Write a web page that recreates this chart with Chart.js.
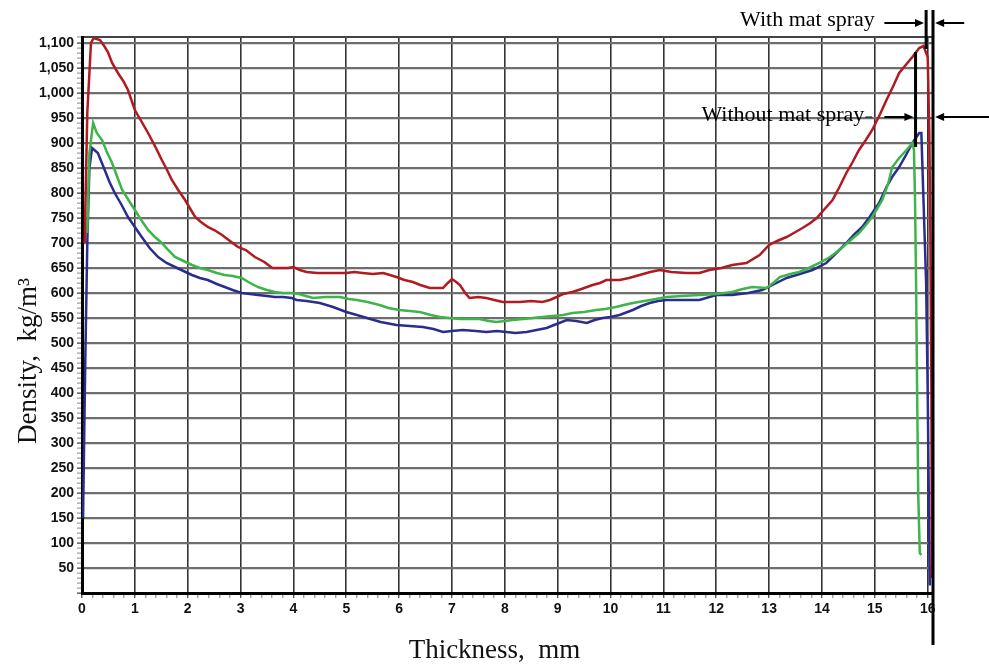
<!DOCTYPE html>
<html>
<head>
<meta charset="utf-8">
<script src="https://cdn.jsdelivr.net/npm/chart.js@4.4.0/dist/chart.umd.min.js"></script>
<style>
  html, body { margin: 0; padding: 0; background: #fff; }
  #wrap { width: 989px; height: 665px; }
</style>
</head>
<body>
<div id="wrap"><canvas id="myChart" width="989" height="665"></canvas></div>
<script>
const canvasChart = document.getElementById("myChart");

// thickness (mm) / density (kg/m3)
const redX = [0.05,0.1,0.17,0.22,0.34,0.42,0.49,0.57,0.68,0.78,0.87,1.0,1.12,1.25,1.38,1.51,1.6,1.7,1.82,1.95,2.05,2.14,2.25,2.38,2.5,2.65,2.8,2.95,3.1,3.27,3.45,3.6,3.74,3.9,4.0,4.12,4.25,4.45,4.69,5.0,5.15,5.31,5.5,5.7,5.95,6.1,6.26,6.4,6.58,6.83,6.92,7.0,7.08,7.15,7.25,7.33,7.5,7.65,7.8,7.96,8.28,8.5,8.71,8.85,8.98,9.1,9.28,9.45,9.66,9.8,9.92,10.17,10.35,10.55,10.75,10.93,11.15,11.43,11.68,11.87,12.1,12.3,12.57,12.82,13.0,13.15,13.33,13.5,13.63,13.78,13.9,14.05,14.2,14.33,14.46,14.58,14.7,14.83,14.95,15.1,15.22,15.34,15.46,15.6,15.71,15.84,15.92,16.0,16.03,16.05,16.07,16.08];
const redY = [700,960,1100,1110,1106,1094,1082,1060,1040,1024,1006,966,944,920,894,866,848,826,806,786,768,752,742,732,726,716,704,692,686,672,662,650,650,650,652,646,642,640,640,640,642,640,638,640,632,626,622,616,610,610,620,628,622,616,600,590,592,590,586,582,582,584,582,586,592,598,602,608,616,620,626,626,630,636,642,646,642,640,640,646,650,656,660,676,696,704,712,722,730,740,750,768,786,812,840,862,886,906,926,958,986,1012,1040,1058,1072,1090,1094,1072,920,720,400,30];

const greenX = [0.1,0.14,0.21,0.28,0.38,0.47,0.57,0.66,0.76,0.88,1.0,1.12,1.25,1.38,1.51,1.63,1.76,1.92,2.08,2.23,2.38,2.55,2.7,2.85,3.02,3.18,3.33,3.5,3.65,3.8,3.97,4.1,4.37,4.6,4.88,5.05,5.2,5.4,5.63,5.8,6.0,6.2,6.39,6.6,6.77,6.95,7.15,7.35,7.52,7.7,7.84,8.0,8.15,8.35,8.53,8.7,8.9,9.1,9.28,9.5,9.73,9.9,10.1,10.25,10.42,10.75,11.06,11.35,11.68,12.0,12.3,12.5,12.68,12.95,13.1,13.2,13.4,13.57,13.75,13.95,14.15,14.33,14.5,14.7,14.83,14.95,15.05,15.14,15.25,15.33,15.46,15.6,15.71,15.74,15.76,15.78,15.8,15.82,15.85,15.88];
const greenY = [720,880,940,920,906,882,860,834,806,786,766,746,726,712,700,686,672,664,656,650,646,640,636,634,630,620,612,606,602,600,600,598,590,592,592,588,586,582,576,570,566,564,562,556,552,550,548,548,548,544,542,544,546,548,550,552,554,556,560,562,566,568,572,576,580,586,592,594,596,598,602,608,612,610,622,632,638,642,650,660,672,686,702,720,736,752,770,786,818,852,870,886,900,886,786,620,400,200,80,76];

const blueX = [0.02,0.06,0.1,0.14,0.19,0.3,0.43,0.52,0.62,0.75,0.87,1.0,1.13,1.28,1.44,1.6,1.76,1.92,2.08,2.23,2.38,2.55,2.7,2.85,3.02,3.18,3.33,3.5,3.65,3.8,3.97,4.06,4.25,4.5,4.75,5.0,5.2,5.39,5.65,5.95,6.2,6.45,6.65,6.83,7.0,7.2,7.45,7.65,7.85,8.03,8.2,8.41,8.6,8.79,8.98,9.17,9.35,9.55,9.7,9.85,10.0,10.17,10.42,10.58,10.74,10.9,11.06,11.35,11.68,12.0,12.3,12.6,12.87,13.1,13.33,13.58,13.82,14.08,14.27,14.46,14.6,14.76,14.9,15.08,15.22,15.34,15.46,15.6,15.71,15.84,15.88,15.9,15.94,15.97,16.0,16.02,16.04];
const blueY = [150,450,700,850,890,880,846,822,800,776,752,732,712,690,672,660,652,644,636,630,626,618,612,606,600,598,596,594,592,592,590,586,584,580,572,562,556,550,542,536,534,532,528,522,524,526,524,522,524,522,520,522,526,530,538,546,544,540,546,550,552,556,566,574,580,584,586,586,586,596,596,600,606,618,630,638,646,660,680,700,716,732,752,780,812,834,852,878,900,920,920,852,720,620,400,200,15];

const seriesColors = ["#b01a20", "#3db54a", "#2b2d8e"];

function toPoints(xs, ys) {
  return xs.map((x, i) => ({ x: x, y: ys[i] }));
}

function isWhole(v) {
  return Math.abs(v - Math.round(v)) < 1e-6;
}

function drawArrow(ctx, x1, y, x2) {
  const dir = x2 > x1 ? 1 : -1;
  ctx.beginPath();
  ctx.moveTo(x1, y);
  ctx.lineTo(x2 - dir * 6, y);
  ctx.stroke();
  ctx.beginPath();
  ctx.moveTo(x2, y);
  ctx.lineTo(x2 - dir * 9, y - 4);
  ctx.lineTo(x2 - dir * 9, y + 4);
  ctx.closePath();
  ctx.fill();
}

const extrasPlugin = {
  id: "extras",
  afterDraw(chart) {
    const ctx = chart.ctx;
    const xs = chart.scales.x;
    const ys = chart.scales.y;
    const area = chart.chartArea;
    const px = (v) => xs.getPixelForValue(v);
    const py = (v) => ys.getPixelForValue(v);

    ctx.save();
    // axis titles
    ctx.fillStyle = "#111";
    ctx.font = "27px 'Liberation Serif', 'Times New Roman', serif";
    ctx.textAlign = "center";
    ctx.textBaseline = "alphabetic";
    ctx.fillText("Thickness,  mm", (area.left + area.right) / 2 - 13, 658);
    ctx.save();
    ctx.translate(36, (area.top + area.bottom) / 2 + 46);
    ctx.rotate(-Math.PI / 2);
    ctx.fillText("Density,  kg/m³", 0, 0);
    ctx.restore();

    // annotation lines
    ctx.strokeStyle = "#000";
    ctx.fillStyle = "#000";
    ctx.lineWidth = 3;
    ctx.beginPath();
    ctx.moveTo(px(15.97), py(1166));
    ctx.lineTo(px(15.97), py(1088));
    ctx.moveTo(px(16.1), py(1166));
    ctx.lineTo(px(16.1), py(-104));
    ctx.moveTo(px(15.77), py(1082));
    ctx.lineTo(px(15.77), py(892));
    ctx.stroke();

    ctx.lineWidth = 2;
    drawArrow(ctx, px(15.18), py(1140), px(15.93));
    drawArrow(ctx, px(16.69), py(1140), px(16.14));
    drawArrow(ctx, px(15.18), py(952), px(15.73));
    drawArrow(ctx, px(17.2), py(952), px(16.14));
    ctx.lineWidth = 1;
    ctx.beginPath();
    ctx.moveTo(px(14.82), py(952));
    ctx.lineTo(px(14.95), py(952));
    ctx.stroke();

    ctx.font = "22px 'Liberation Serif', 'Times New Roman', serif";
    ctx.textAlign = "right";
    ctx.textBaseline = "middle";
    ctx.fillText("With mat spray", px(15.0), py(1146));
    ctx.fillText("Without mat spray", px(14.8), py(956));
    ctx.restore();
  },
};

function renderChart() {
  new Chart(canvasChart, {
    type: "line",
    data: {
      datasets: [
        { label: "red", data: toPoints(redX, redY), borderColor: seriesColors[0] },
        { label: "green", data: toPoints(greenX, greenY), borderColor: seriesColors[1] },
        { label: "blue", data: toPoints(blueX, blueY), borderColor: seriesColors[2] },
      ],
    },
    options: {
      responsive: false,
      animation: false,
      layout: { padding: { top: 37, right: 56, left: 0, bottom: 0 } },
      elements: {
        point: { radius: 0 },
        line: { borderWidth: 2.5, tension: 0 },
      },
      plugins: { legend: { display: false }, tooltip: { enabled: false } },
      scales: {
        x: {
          type: "linear",
          min: 0,
          max: 16.1,
          afterFit: (scale) => { scale.height = 72; },
          border: { color: "#000", width: 3 },
          grid: {
            color: (c) => isWhole(c.tick.value) ? "#333" : "rgba(0,0,0,0)",
            lineWidth: 1.6,
            tickColor: (c) => isWhole(c.tick.value) ? "#111" : "#777",
            tickWidth: 1,
            tickLength: 5,
          },
          ticks: {
            stepSize: 0.2,
            includeBounds: false,
            autoSkip: false,
            maxRotation: 0,
            padding: 3,
            color: "#111",
            font: { family: "'Liberation Sans', Arial, sans-serif", size: 14, weight: "bold" },
            callback: (v) => isWhole(v) ? String(Math.round(v)) : "",
          },
        },
        y: {
          type: "linear",
          min: 0,
          max: 1112,
          afterFit: (scale) => { scale.width = 82; },
          border: { color: "#000", width: 3 },
          grid: {
            color: (c) => {
              const v = c.tick.value;
              if (v === 1112) return "#444";
              return v > 0 && v % 50 === 0 ? "#6e6e6e" : "rgba(0,0,0,0)";
            },
            lineWidth: (c) => (c.tick.value === 1112 ? 2 : 2.2),
            tickColor: (c) => c.tick.value % 50 === 0 ? "#111" : "#888",
            tickWidth: 1,
            tickLength: 5,
          },
          ticks: {
            stepSize: 10,
            autoSkip: false,
            padding: 3,
            color: "#111",
            font: { family: "'Liberation Sans', Arial, sans-serif", size: 14, weight: "bold" },
            callback: (v) => v > 0 && v % 50 === 0 ? v.toLocaleString("en-US") : "",
          },
        },
      },
    },
    plugins: [extrasPlugin],
  });
}

renderChart();
</script>
</body>
</html>
